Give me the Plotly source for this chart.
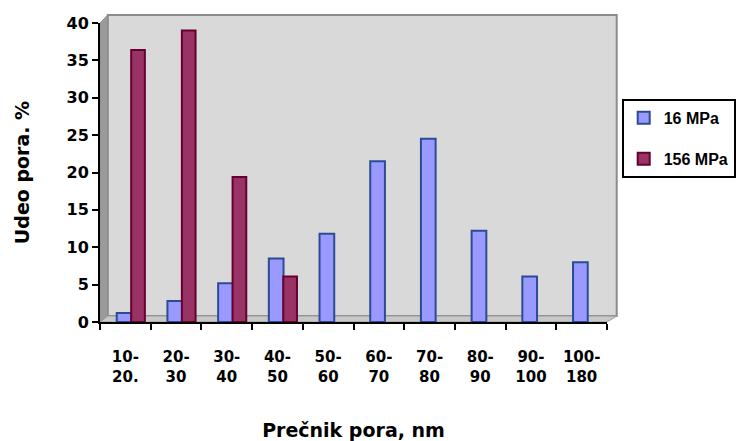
import plotly.graph_objects as go

categories = ["10-<br>20.", "20-<br>30", "30-<br>40", "40-<br>50", "50-<br>60",
              "60-<br>70", "70-<br>80", "80-<br>90", "90-<br>100", "100-<br>180"]
mpa16 = [1.2, 2.8, 5.2, 8.5, 11.8, 21.5, 24.5, 12.2, 6.1, 8.0]
mpa156 = [36.4, 39.0, 19.4, 6.1, None, None, None, None, None, None]
y_ticks = [0, 5, 10, 15, 20, 25, 30, 35, 40]

FONT = "DejaVu Sans"

fig = go.Figure()
fig.add_trace(go.Bar(
    x=categories, y=mpa16, name="<b>16 MPa</b>",
    marker=dict(color="#9999FF", line=dict(color="#2B4C94", width=2)),
    offset=-0.17, width=0.29, legendgroup="a",
))
fig.add_trace(go.Bar(
    x=categories, y=mpa156, name="<b>156 MPa</b>",
    marker=dict(color="#993366", line=dict(color="#66002E", width=2)),
    offset=0.115, width=0.27, legendgroup="b",
))

# 3D-style walls (decoration)
W = 522.0
H = 299.0
wx0 = 8 / W
wx1 = 532 / W
wy0 = 6 / H
wy1 = 307 / H
shapes = [
    dict(type="rect", xref="paper", yref="paper", x0=wx0, x1=wx1, y0=wy0, y1=wy1,
         fillcolor="#D9D9D9", line=dict(color="#8C8C8C", width=2), layer="below"),
    dict(type="path", xref="paper", yref="paper",
         path=f"M 0,0 L {wx0},{wy0} L {wx0},{wy1} L 0,1 Z",
         fillcolor="#9A9A9A", line=dict(color="#8C8C8C", width=1), layer="below"),
    dict(type="path", xref="paper", yref="paper",
         path=f"M 0,0 L 1,0 L {wx1},{wy0} L {wx0},{wy0} Z",
         fillcolor="#C8C8C8", line=dict(color="#9A9A9A", width=1), layer="below"),
]

fig.update_layout(
    width=748, height=441,
    margin=dict(l=100, r=126, t=23, b=119),
    paper_bgcolor="white", plot_bgcolor="rgba(0,0,0,0)",
    shapes=shapes,
    font=dict(family=FONT, color="black"),
    showlegend=True,
    legend=dict(
        x=1.029, y=0.746, xanchor="left", yanchor="top",
        bordercolor="black", borderwidth=2, bgcolor="white",
        font=dict(family="Liberation Sans", size=16, color="black", weight="bold"),
        tracegroupgap=17, traceorder="grouped", itemwidth=30,
    ),
    xaxis=dict(
        showgrid=False, showline=True, linecolor="black", linewidth=2,
        ticks="outside", tickson="boundaries", ticklen=6, tickwidth=2, tickcolor="black",
        tickfont=dict(family=FONT, size=15, color="black", weight="bold"),
        tickangle=0, ticklabelstandoff=20, automargin=False,
        title=dict(text="<b>Prečnik pora, nm</b>", font=dict(family=FONT, size=19), standoff=44),
    ),
    yaxis=dict(
        range=[0, 40], tickvals=y_ticks, showgrid=False, zeroline=False,
        showline=True, linecolor="black", linewidth=2, automargin=False,
        ticks="outside", ticklen=6, tickwidth=2, tickcolor="black",
        tickfont=dict(family=FONT, size=16, color="black", weight="bold"),
        title=dict(text="<b>Udeo pora. %</b>", font=dict(family=FONT, size=19), standoff=32),
    ),
)

fig.write_html("out.html")
